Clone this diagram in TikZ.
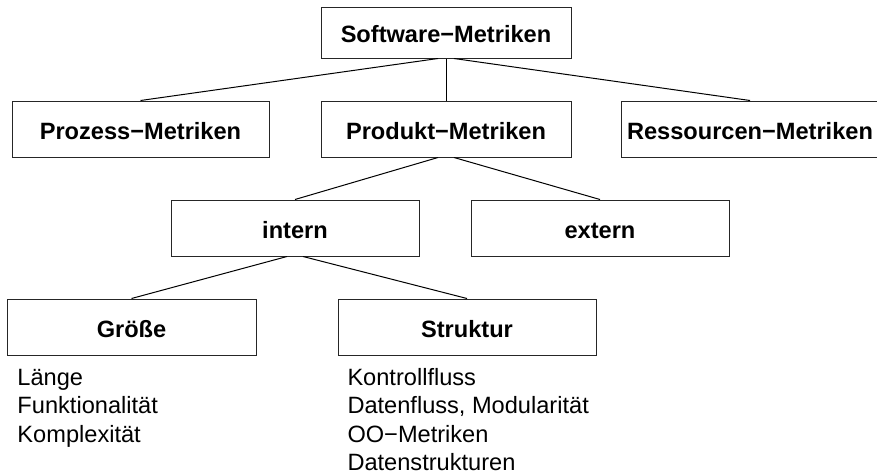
\documentclass[tikz,border=0pt]{standalone}
\usepackage{fontspec}
\setmainfont{Liberation Sans}
\usepackage{tikz}
\usetikzlibrary{positioning}

\begin{document}
\begin{tikzpicture}[x=0.5pt,y=-0.5pt,-,line width=0.5pt,
  main node/.style={rectangle,draw=black!85,inner sep=0pt,minimum height=28pt,
    text height=10.3pt,text depth=0pt,
    font=\fontsize{11.8}{14.25}\selectfont\bfseries},
  list/.style={anchor=base west,inner sep=0pt,align=left,
    font=\fontsize{11.8}{14.25}\selectfont}]

  \useasboundingbox (0,0) rectangle (877,471);

  \node[main node,minimum width=125pt,minimum height=25.5pt] (1) at (446,32.5) {Software−Metriken};
  \node[main node,minimum width=128.5pt] (2) at (140.5,129) {Prozess−Metriken};
  \node[main node,minimum width=125pt] (3) at (446,129) {Produkt−Metriken};
  \node[main node,minimum width=129pt] (4) at (750,129) {Ressourcen−Metriken};
  \node[main node,minimum width=124pt] (5) at (295,228) {intern};
  \node[main node,minimum width=129pt] (6) at (600,228) {extern};
  \node[main node,minimum width=124.5pt] (7) at (131.5,327) {Größe};
  \node[main node,minimum width=129pt] (8) at (467,327) {Struktur};

  % base of a list = baseline of its last line
  \node[list] (9) at (17,442) {Länge\\Funktionalität\\Komplexität};
  \node[list] (10) at (347,470.5) {Kontrollfluss\\Datenfluss, Modularität\\OO−Metriken\\Datenstrukturen};

  \path
    ([xshift=-4pt]1.south) edge (2.north)
    (1.south) edge (3.north)
    ([xshift=4pt]1.south) edge (4.north)

    ([xshift=-4pt]3.south) edge (5.north)
    ([xshift=4pt]3.south) edge (6.north)

    ([xshift=-4pt]5.south) edge (7.north)
    ([xshift=4pt]5.south) edge (8.north)
    ;
\end{tikzpicture}
\end{document}
